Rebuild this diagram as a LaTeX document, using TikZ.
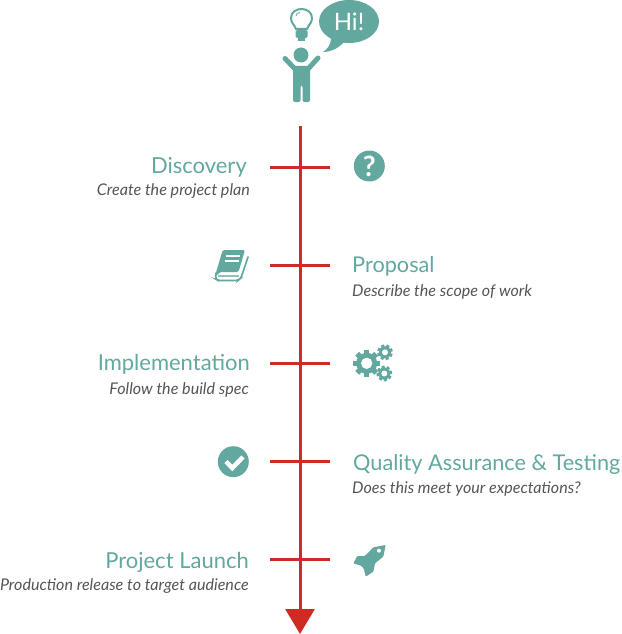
\documentclass[tikz,border=0pt]{standalone}
\usepackage{fontspec}
\setmainfont{Lato}
\usetikzlibrary{arrows.meta}
\definecolor{teal1}{HTML}{62A89F}
\definecolor{red1}{HTML}{CE2B25}
\definecolor{gray1}{HTML}{555555}
\tikzstyle{headL}=[anchor=base east,inner sep=0pt,text=teal1,font=\fontsize{22}{24}\selectfont]
\tikzstyle{headR}=[anchor=base west,inner sep=0pt,text=teal1,font=\fontsize{21.7}{24}\selectfont]
\tikzstyle{subL}=[anchor=base east,inner sep=0pt,text=gray1,font=\fontsize{16.1}{18}\selectfont\itshape]
\tikzstyle{subR}=[anchor=base west,inner sep=0pt,text=gray1,font=\fontsize{16.1}{18}\selectfont\itshape]
\tikzstyle{badge}=[circle,fill=teal1,minimum size=31pt,inner sep=0pt,text=white]
\tikzstyle{tick}=[red1,line width=3pt]
\newcommand{\gearicon}[5]{%
\foreach \a in {0,45,...,315} {\fill[teal1,rotate around={\a+#4:(#1,#2)}] (#1-0.2*#3,#2) rectangle (#1+0.2*#3,#2+#3);}
\fill[teal1] (#1,#2) circle ({0.78*#3});
\fill[white] (#1,#2) circle ({#5*#3});}
\begin{document}
\begin{tikzpicture}[x=1pt,y=-1pt]
\useasboundingbox (0,0) rectangle (621,634);
\coordinate (top) at (300,126);
\coordinate (end) at (300,634);
\draw[red1,line width=3pt,-{Triangle[length=25pt,width=29pt]}] (top) -- (end);
\foreach \n/\y in {a/167,b/265,c/363,d/461,e/559} {
\coordinate (\n l) at (270,\y);
\coordinate (\n r) at (330,\y);
\draw[tick] (\n l) -- (\n r);
}
\node[headL] at (247,173) (discovery) {Discovery};
\node[subL] at (250,195) (discoverysub) {Create the project plan};
\node[headR] at (352,272) (proposal) {Proposal};
\node[subR] at (352,296) (proposalsub) {Describe the scope of work};
\node[headL] at (250,370) (implementation) {Implementation};
\node[subL] at (249,394) (implementationsub) {Follow the build spec};
\node[headR] at (353,470) (quality) {Quality Assurance \& Testing};
\node[subR] at (352,493) (qualitysub) {Does this meet your expectations?};
\node[headL] at (249,568) (launch) {Project Launch};
\node[subL] at (249,590) (launchsub) {Production release to target audience};
\node[badge,font=\fontsize{28}{28}\selectfont\bfseries] at (369.3,166) (question) {?};
\node[badge] at (233.3,461.7) (check) {};
\draw[white,line width=4.5pt] (226,461.5) -- (232.3,468) -- (243,457);
% book
\fill[teal1,rounded corners=1.5pt] (222.7,250) -- (245,250) -- (238.5,272) -- (220,272) -- (216,276) -- (215,276) -- cycle;
\draw[teal1,line width=1.6pt,line cap=round,rounded corners=2pt] (216,273) -- (215.5,279) -- (218,280.5) -- (238,280.5) -- (241,278) -- (248,257);
\draw[teal1!70,line width=1.6pt] (218,276) -- (239,276);
\draw[white,line width=1.7pt] (226,256) -- (240,256) (224.5,261) -- (238.5,261);
% gears
\gearicon{366.7}{363.3}{13.5}{0}{0.42}
\gearicon{385}{352.3}{7.8}{20}{0.38}
\gearicon{384.3}{373.5}{7.8}{10}{0.38}
% rocket
\fill[teal1,rounded corners=1pt] (385.7,545) -- (373.3,547.3) -- (365,556) -- (357.3,556) -- (353.3,563.3) -- (361.7,566) -- (364,569.3) -- (365.7,576.7) -- (373.3,571.7) -- (375,563.3) -- (383.3,556.7) -- cycle;
\fill[white] (379,550.7) circle (2);
% person
\fill[teal1] (301,55) circle (7.5);
\draw[teal1,line width=5pt,line cap=round] (285,58.5) -- (295,69);
\draw[teal1,line width=5pt,line cap=round] (318,58) -- (308,69);
\fill[teal1,rounded corners=2pt] (293,66) -- (310,66) -- (310,102) -- (302.5,102) -- (302.5,85) -- (300.5,85) -- (300.5,102) -- (293,102) -- cycle;
% bulb
\draw[teal1,line width=2pt] (296,29) .. controls (294,24) and (291,23) .. (291,18) .. controls (291,6) and (312,6) .. (312,18) .. controls (312,23) and (309,24) .. (307,29) -- cycle;
\fill[teal1,rounded corners=1.5pt] (295.5,30) rectangle (307.5,38);
\fill[teal1] (298,37) rectangle (305,41);
\draw[teal1,line width=0.8pt] (296,16) .. controls (296,13.5) and (298,12.5) .. (300,12.5);
% speech bubble
\fill[teal1] (349,21.5) ellipse (30 and 21.5);
\fill[teal1] (331,38) .. controls (331,44) and (328,49) .. (323,52) .. controls (332,52) and (340,47) .. (345,41) -- cycle;
\node[text=white,inner sep=0pt,font=\fontsize{24}{26}\selectfont] at (349,22) (hi) {Hi!};
\end{tikzpicture}
\end{document}
